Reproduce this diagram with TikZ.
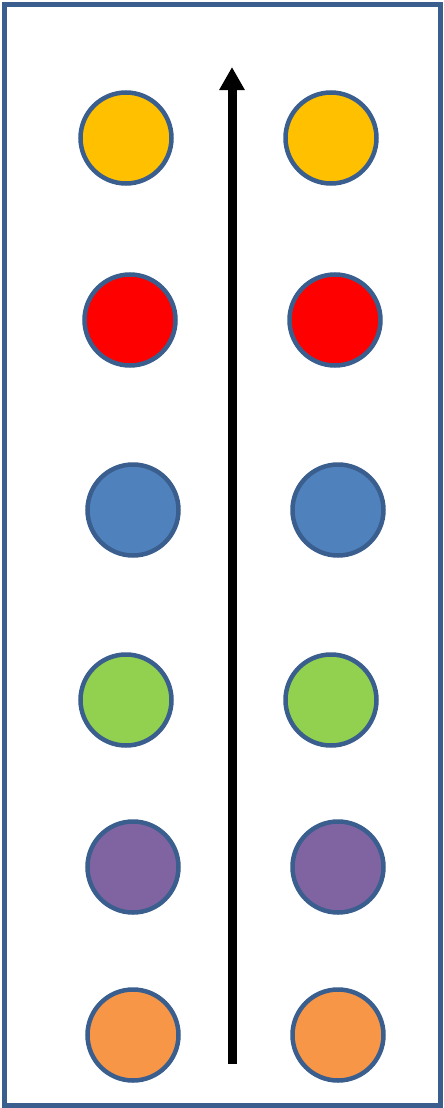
\documentclass[tikz,border=0pt]{standalone}
\usepackage{tikz}
\usetikzlibrary{arrows.meta}
\definecolor{marco}{HTML}{3A5F8E}
\definecolor{amarillo}{HTML}{FFC000}
\definecolor{rojo}{HTML}{FF0000}
\definecolor{azul}{HTML}{4F81BD}
\definecolor{verde}{HTML}{92D050}
\definecolor{morado}{HTML}{8064A2}
\definecolor{naranja}{HTML}{F79646}
\tikzset{bola/.style={circle,draw=marco,line width=4.5pt,minimum size=91pt,inner sep=0pt}}
\begin{document}
\begin{tikzpicture}[x=1pt,y=-1pt,>={Triangle[length=23pt,width=24pt]}]
  \useasboundingbox (0,0) rectangle (444,1108);
  % marco
  \draw[marco,line width=5pt] (4.5,4.5) rectangle (440,1105);
  % bolas por filas (izquierda, derecha)
  \foreach \xa/\xb/\y/\c/\n in {126/331/138/amarillo/1,130/335/320/rojo/2,133/338/510/azul/3,
                                126/331/700/verde/4,133/338/867/morado/5,133/338/1035/naranja/6}{
    \node[bola,fill=\c] (izq\n) at (\xa,\y){};
    \node[bola,fill=\c] (der\n) at (\xb,\y){};
  }
  % flecha central
  \coordinate (abajo) at (232,1064);
  \coordinate (arriba) at (232,67);
  \draw[->,line width=9pt] (abajo)--(arriba);
\end{tikzpicture}
\end{document}
